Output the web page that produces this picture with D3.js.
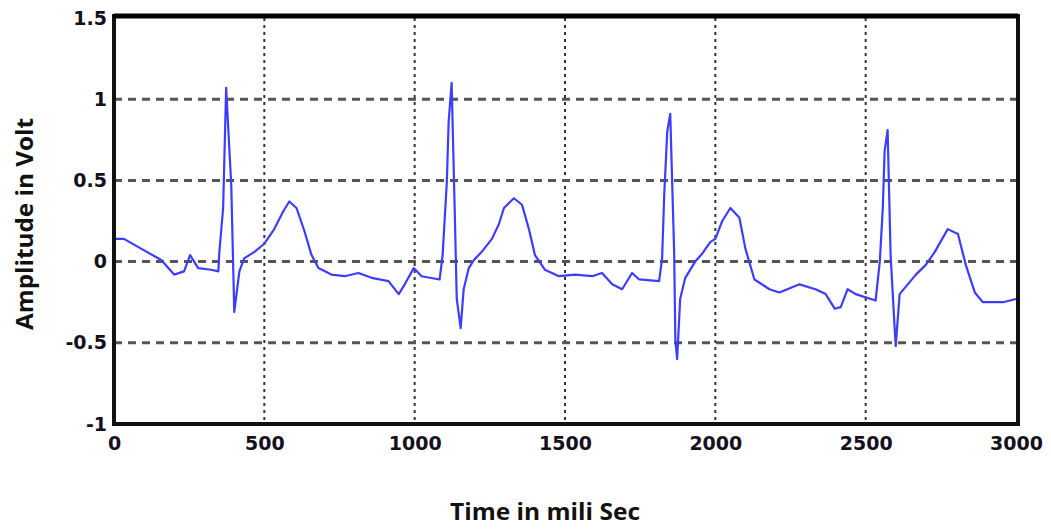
<!DOCTYPE html>
<html>
<head>
<meta charset="utf-8">
<script src="https://cdn.jsdelivr.net/npm/d3@7"></script>
<style>
  html, body { margin: 0; padding: 0; background: #ffffff; }
  svg { display: block; }
</style>
</head>
<body>
<svg id="chart" width="1051" height="530"></svg>
<script>
// ---- data (time in ms, amplitude in V) ----
const timeMs = [0, 33, 90, 157, 200, 233, 253, 280, 323, 347, 350, 363, 373, 390, 400, 417, 433, 467, 500, 533, 563, 583, 607, 633, 657, 680, 723, 767, 813, 857, 913, 947, 967, 997, 1023, 1083, 1093, 1107, 1113, 1123, 1133, 1140, 1153, 1163, 1180, 1197, 1223, 1257, 1280, 1297, 1330, 1357, 1380, 1400, 1433, 1480, 1533, 1590, 1623, 1657, 1690, 1723, 1747, 1813, 1823, 1830, 1840, 1850, 1863, 1867, 1873, 1883, 1900, 1933, 1957, 1983, 2000, 2023, 2050, 2080, 2100, 2130, 2180, 2213, 2280, 2333, 2367, 2397, 2417, 2440, 2467, 2533, 2547, 2557, 2563, 2573, 2583, 2597, 2600, 2613, 2640, 2667, 2700, 2730, 2773, 2807, 2833, 2863, 2890, 2957, 3000];
const amplitude = [0.14, 0.14, 0.08, 0.01, -0.08, -0.06, 0.04, -0.04, -0.05, -0.06, 0.05, 0.33, 1.07, 0.47, -0.31, -0.06, 0.02, 0.06, 0.11, 0.20, 0.31, 0.37, 0.33, 0.19, 0.04, -0.04, -0.08, -0.09, -0.07, -0.10, -0.12, -0.20, -0.14, -0.04, -0.09, -0.11, 0.04, 0.49, 0.86, 1.10, 0.33, -0.23, -0.41, -0.17, -0.04, 0.01, 0.06, 0.14, 0.23, 0.33, 0.39, 0.35, 0.20, 0.04, -0.05, -0.09, -0.08, -0.09, -0.07, -0.14, -0.17, -0.07, -0.11, -0.12, 0.02, 0.41, 0.80, 0.91, 0.06, -0.48, -0.60, -0.23, -0.10, 0.00, 0.05, 0.12, 0.14, 0.25, 0.33, 0.27, 0.08, -0.11, -0.17, -0.19, -0.14, -0.17, -0.20, -0.29, -0.28, -0.17, -0.20, -0.24, 0.00, 0.33, 0.68, 0.81, 0.04, -0.43, -0.52, -0.20, -0.14, -0.08, -0.02, 0.06, 0.20, 0.17, -0.02, -0.19, -0.25, -0.25, -0.23];
const xTicks = [0, 500, 1000, 1500, 2000, 2500, 3000];
const yTicks = [-1, -0.5, 0, 0.5, 1, 1.5];
const xTickLabels = ["0", "500", "1000", "1500", "2000", "2500", "3000"];
const yTickLabels = ["-1", "-0.5", "0", "0.5", "1", "1.5"];
const xTitle = "Time in mili Sec";
const yTitle = "Amplitude in Volt";

// ---- layout ----
const svg = d3.select("#chart");
const mLeft = 114, mRight = 1016, mTop = 18, mBottom = 424;

const x = d3.scaleLinear().domain([0, 3000]).range([mLeft, mRight]);
const y = d3.scaleLinear().domain([-1, 1.5]).range([mBottom, mTop]);

const tickFont = "'DejaVu Sans', 'Liberation Sans', sans-serif";
const titleFont = "'Open Sans', Lato, sans-serif";

// grid lines
const grid = svg.append("g").attr("class", "grid");
grid.selectAll("line.vx").data(xTicks.slice(1, -1)).join("line")
  .attr("x1", d => x(d)).attr("x2", d => x(d))
  .attr("y1", mTop).attr("y2", mBottom)
  .attr("stroke", "#333").attr("stroke-width", 2)
  .attr("stroke-dasharray", "3,4");
grid.selectAll("line.hy").data(yTicks.slice(1, -1)).join("line")
  .attr("x1", mLeft).attr("x2", mRight)
  .attr("y1", d => y(d)).attr("y2", d => y(d))
  .attr("stroke", "#555").attr("stroke-width", 3)
  .attr("stroke-dasharray", "8,6");

// signal
const pts = timeMs.map((t, i) => [t, amplitude[i]]);
const line = d3.line().x(d => x(d[0])).y(d => y(d[1]));
svg.append("path").datum(pts)
  .attr("d", line)
  .attr("fill", "none")
  .attr("stroke", "#3d3dff")
  .attr("stroke-width", 2.2)
  .attr("stroke-linejoin", "round");

// frame
svg.append("rect")
  .attr("x", mLeft).attr("y", mTop - 2)
  .attr("width", mRight - mLeft + 2).attr("height", mBottom - mTop + 2)
  .attr("fill", "none").attr("stroke", "#111").attr("stroke-width", 4);
svg.append("line")
  .attr("x1", mLeft).attr("x2", mRight + 2)
  .attr("y1", mTop - 2).attr("y2", mTop - 2)
  .attr("stroke", "#000").attr("stroke-width", 5);

// axes (labels only, via d3 axis)
const xAxis = d3.axisBottom(x).tickValues(xTicks)
  .tickFormat((d, i) => xTickLabels[i]).tickSize(0).tickPadding(13);
const gx = svg.append("g").attr("transform", `translate(0,${mBottom})`).call(xAxis);
gx.select(".domain").remove();
gx.selectAll("text").attr("font-family", tickFont).attr("font-weight", "bold")
  .attr("font-size", 19).attr("fill", "#151020");

const yAxis = d3.axisLeft(y).tickValues(yTicks)
  .tickFormat((d, i) => yTickLabels[i]).tickSize(0).tickPadding(7);
const gy = svg.append("g").attr("transform", `translate(${mLeft},0)`).call(yAxis);
gy.select(".domain").remove();
gy.selectAll("text").attr("font-family", tickFont).attr("font-weight", "bold")
  .attr("font-size", 19).attr("fill", "#151020");

// titles
svg.append("text")
  .attr("x", 545).attr("y", 520)
  .attr("text-anchor", "middle")
  .attr("font-family", titleFont).attr("font-weight", "bold")
  .attr("font-size", 23).attr("fill", "#111")
  .attr("textLength", 190).attr("lengthAdjust", "spacingAndGlyphs")
  .text(xTitle);

svg.append("text")
  .attr("transform", "translate(33,224) rotate(-90)")
  .attr("text-anchor", "middle")
  .attr("font-family", titleFont).attr("font-weight", "bold")
  .attr("font-size", 23).attr("fill", "#111")
  .attr("textLength", 212).attr("lengthAdjust", "spacingAndGlyphs")
  .text(yTitle);
</script>
</body>
</html>
